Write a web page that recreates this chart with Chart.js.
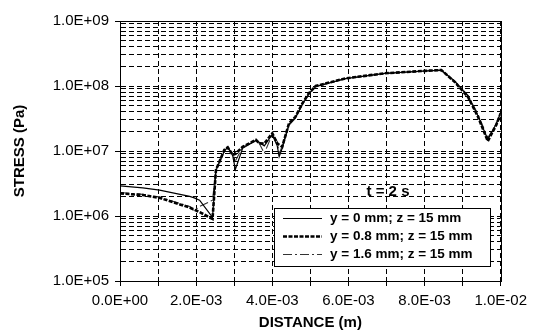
<!DOCTYPE html>
<html><head><meta charset="utf-8">
<script src="https://cdn.jsdelivr.net/npm/chart.js@4"></script>
<style>html,body{margin:0;padding:0;background:#fff}</style>
</head><body>
<canvas id="c" width="533" height="332"></canvas>
<script>
// ---- data (distance in m, stress in Pa) ----
const distance = [0, 0.0006, 0.00104, 0.00183, 0.00195, 0.00209, 0.00243, 0.00252, 0.00274, 0.00283, 0.00296, 0.00303,
  0.00322, 0.00357, 0.00366, 0.00379, 0.0040, 0.00413, 0.00418, 0.00426, 0.00444, 0.00461, 0.00479, 0.00496, 0.00514,
  0.00592, 0.00696, 0.00801, 0.00844, 0.00879, 0.00914, 0.00940, 0.00966, 0.00988, 0.0100];
const stressY0 = [2.9e6, 2.7e6, 2.5e6, 2.0e6, 1.9e6, 1.75e6, 9.5e5, 5.0e6, 1.0e7, 1.15e7, 8.5e6, 5.2e6,
  1.1e7, 1.45e7, 1.35e7, 1.2e7, 1.8e7, 1.2e7, 8.2e6, 1.1e7, 2.6e7, 3.3e7, 5.2e7, 7.6e7, 9.8e7,
  1.3e8, 1.56e8, 1.70e8, 1.75e8, 1.18e8, 7.0e7, 3.5e7, 1.5e7, 2.6e7, 3.9e7];
const stressY08 = [2.23e6, 2.1e6, 1.9e6, 1.35e6, 1.25e6, 1.15e6, 9.0e5, 5.1e6, 1.04e7, 1.14e7, 8.7e6, 9.0e6,
  1.16e7, 1.48e7, 1.31e7, 1.3e7, 1.87e7, 1.31e7, 1.25e7, 1.16e7, 2.67e7, 3.37e7, 5.4e7, 7.7e7, 1.0e8,
  1.31e8, 1.57e8, 1.71e8, 1.76e8, 1.16e8, 6.8e7, 3.4e7, 1.42e7, 2.5e7, 3.8e7];
const stressY16 = [2.3e6, 2.15e6, 1.95e6, 1.4e6, 1.2e6, 1.4e6, 1.75e6, 5.3e6, 1.0e7, 1.1e7, 9.0e6, 7.0e6,
  1.15e7, 1.45e7, 1.3e7, 9.2e6, 1.8e7, 1.4e7, 9.0e6, 1.2e7, 2.5e7, 3.2e7, 5.3e7, 7.6e7, 9.9e7,
  1.3e8, 1.56e8, 1.7e8, 1.75e8, 1.2e8, 7.2e7, 3.7e7, 1.6e7, 2.6e7, 3.8e7];
const seriesLabels = ['y = 0 mm; z = 15 mm', 'y = 0.8 mm; z = 15 mm', 'y = 1.6 mm; z = 15 mm'];
const yDecades = [1e5, 1e6, 1e7, 1e8, 1e9];
const xTickValues = [0, 0.001, 0.002, 0.003, 0.004, 0.005, 0.006, 0.007, 0.008, 0.009, 0.010];
const xLabelValues = [0, 0.002, 0.004, 0.006, 0.008, 0.010];
const annotationText = 't = 2 s';
const xTitle = 'DISTANCE (m)';
const yTitle = 'STRESS (Pa)';

function sci(v) {
  if (v === 0) return '0.0E+00';
  const e = Math.floor(Math.log10(Math.abs(v)) + 1e-9);
  const m = v / Math.pow(10, e);
  const s = e < 0 ? '-' : '+';
  return m.toFixed(1) + 'E' + s + String(Math.abs(e)).padStart(2, '0');
}
const yAllTicks = [];
yDecades.forEach((d, i) => {
  yAllTicks.push(d);
  if (i < yDecades.length - 1) for (let k = 2; k <= 9; k++) yAllTicks.push(d * k);
});
const isDecade = v => yDecades.some(d => Math.abs(v - d) / d < 1e-6);
const isXLabel = v => xLabelValues.some(d => Math.abs(v - d) < 1e-9);
const pts = arr => distance.map((x, i) => ({x, y: arr[i]}));

const FONT = '"Liberation Sans", Arial, sans-serif';

const datasets = [
  {label: seriesLabels[0], data: pts(stressY0), borderColor: '#000', borderWidth: 1.2, borderDash: []},
  {label: seriesLabels[1], data: pts(stressY08), borderColor: '#000', borderWidth: 2.6, borderDash: [4, 1.5]},
  {label: seriesLabels[2], data: pts(stressY16), borderColor: '#333', borderWidth: 1.1, borderDash: [9, 3, 2, 3]}
].map(d => Object.assign(d, {pointRadius: 0, tension: 0, fill: false}));

const framePlugin = {
  id: 'frame',
  afterDatasetsDraw(chart) {
    const {ctx, chartArea: a} = chart;
    ctx.save();
    ctx.setLineDash([]);
    ctx.strokeStyle = '#000';
    ctx.lineWidth = 1;
    ctx.strokeRect(Math.round(a.left) + 0.5, Math.round(a.top) + 0.5, Math.round(a.right - a.left), Math.round(a.bottom - a.top));
    // annotation
    ctx.fillStyle = '#000';
    ctx.font = 'bold 15px ' + FONT;
    ctx.textAlign = 'center';
    ctx.textBaseline = 'middle';
    ctx.fillText(annotationText, 388, 192);
    // legend box
    const bx = 274.5, by = 208.5, bw = 216, bh = 58;
    ctx.fillStyle = '#fff';
    ctx.fillRect(bx, by, bw, bh);
    ctx.strokeRect(bx, by, bw, bh);
    const rows = [218.5, 236.5, 254.5];
    chart.data.datasets.forEach((ds, i) => {
      ctx.save();
      ctx.strokeStyle = ds.borderColor;
      ctx.lineWidth = ds.borderWidth;
      ctx.setLineDash(ds.borderDash);
      ctx.beginPath();
      ctx.moveTo(283, rows[i]);
      ctx.lineTo(322, rows[i]);
      ctx.stroke();
      ctx.restore();
      ctx.fillStyle = '#000';
      ctx.font = 'bold 13.5px ' + FONT;
      ctx.textAlign = 'left';
      ctx.textBaseline = 'middle';
      ctx.fillText(ds.label, 330, rows[i]);
    });
    ctx.restore();
  }
};

new Chart(document.getElementById('c'), {
  type: 'line',
  data: {datasets},
  plugins: [framePlugin],
  options: {
    responsive: false,
    devicePixelRatio: 1,
    animation: false,
    layout: {padding: {left: 0, top: 21, right: 30, bottom: 0}},
    plugins: {legend: {display: false}, tooltip: {enabled: false}},
    scales: {
      x: {
        type: 'linear', min: 0, max: 0.01,
        afterFit(s) { s.height = 51; },
        afterBuildTicks(s) { s.ticks = xTickValues.map(v => ({value: v})); },
        ticks: {
          autoSkip: false, maxRotation: 0, padding: 6, color: '#000',
          font: {family: FONT, size: 15},
          callback: v => isXLabel(v) ? sci(v) : ''
        },
        grid: {color: '#000', lineWidth: 1, tickLength: 5, tickColor: '#000', tickWidth: 1},
        border: {display: true, color: '#000', width: 1, dash: [5, 3]},
        title: {display: true, text: xTitle, color: '#000', font: {family: FONT, size: 15, weight: 'bold'}, padding: {top: 0, bottom: 0}}
      },
      y: {
        type: 'logarithmic', min: 1e5, max: 1e9,
        afterFit(s) { s.width = 120; },
        afterBuildTicks(s) { s.ticks = yAllTicks.map(v => ({value: v})); },
        ticks: {
          autoSkip: false, padding: 6, color: '#000',
          font: {family: FONT, size: 15},
          callback: v => isDecade(v) ? sci(v) : ''
        },
        grid: {
          color: '#000', lineWidth: 1, tickLength: 5, tickWidth: 1,
          tickColor: c => (c.tick && isDecade(c.tick.value)) ? '#000' : 'rgba(0,0,0,0)'
        },
        border: {display: true, color: '#000', width: 1, dash: [5, 3]},
        title: {display: true, text: yTitle, color: '#000', font: {family: FONT, size: 15, weight: 'bold'}, padding: {top: 11, bottom: 0}}
      }
    }
  }
});
</script>
</body></html>
